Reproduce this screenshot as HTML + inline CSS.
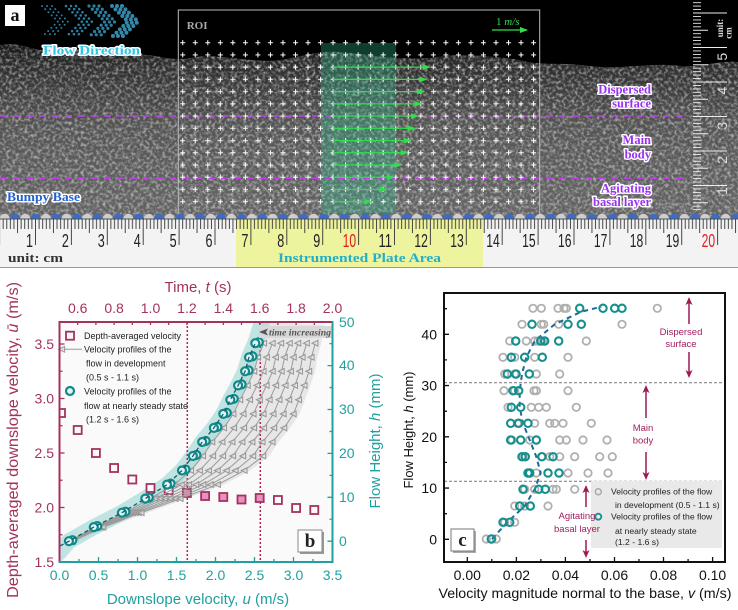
<!DOCTYPE html>
<html><head><meta charset="utf-8"><style>
html,body{margin:0;padding:0;background:#fff;}
svg{display:block;}
.s{font-family:"Liberation Sans",Arial,sans-serif;}
.sf{font-family:"Liberation Serif",serif;}
.ol{paint-order:stroke;stroke:#fff;stroke-width:3;stroke-linejoin:round;}
</style></head><body>
<svg width="738" height="610" viewBox="0 0 738 610" xmlns="http://www.w3.org/2000/svg">
<defs>
<linearGradient id="tex" gradientUnits="userSpaceOnUse" x1="0" y1="40" x2="0" y2="218">
<stop offset="0" stop-color="#111"/><stop offset="0.12" stop-color="#2a2a2a"/><stop offset="0.3" stop-color="#404040"/><stop offset="0.45" stop-color="#525252"/><stop offset="0.7" stop-color="#5c5c5c"/><stop offset="1" stop-color="#646464"/>
</linearGradient>
<clipPath id="texclip"><path d="M0,45 C20,40 40,55 60,50 C80,45 100,58 130,55 C150,52 170,62 190,58 C220,52 250,64 280,60 C300,57 320,50 340,52 C370,55 400,60 430,58 C460,52 490,56 520,60 C540,66 560,62 590,66 C620,70 650,62 680,66 C700,68 720,60 738,62 L738,218 L0,218 Z"/></clipPath>
<filter id="nz" filterUnits="userSpaceOnUse" x="0" y="0" width="738" height="220">
<feTurbulence type="fractalNoise" baseFrequency="0.32" numOctaves="2" seed="7" result="t"/>
<feColorMatrix in="t" type="matrix" values="0 0 0 0 1  0 0 0 0 1  0 0 0 0 1  2.6 0 0 0 -1.1"/>
</filter>
<pattern id="plus" patternUnits="userSpaceOnUse" x="176.435" y="36.585" width="12.53" height="12.23">
<path d="M3.8,6.1 h5 M6.3,3.6 v5" stroke="#fff" stroke-width="1"/>
</pattern>
<pattern id="bumps" patternUnits="userSpaceOnUse" x="10" y="213" width="20.6" height="12">
<circle cx="5" cy="6" r="5.2" fill="#3d6cc4"/><circle cx="15.3" cy="6" r="5.2" fill="#cfcfcf"/>
</pattern>
<pattern id="rtick" patternUnits="userSpaceOnUse" x="35" y="219" width="35.9" height="40">
<g stroke="#333" stroke-width="0.9">
<path d="M0.5,0 v26 M18.45,0 v14 M4.09,0 v10 M7.68,0 v10 M11.27,0 v10 M14.86,0 v10 M22.04,0 v10 M25.63,0 v10 M29.22,0 v10 M32.81,0 v10"/>
</g>
</pattern>
<pattern id="vtick" patternUnits="userSpaceOnUse" x="693" y="47" width="50" height="34.5">
<g stroke="#eee" stroke-width="0.9">
<path d="M0,0.5 h34 M0,17.75 h15 M0,3.95 h8 M0,7.4 h8 M0,10.85 h8 M0,14.3 h8 M0,21.2 h8 M0,24.65 h8 M0,28.1 h8 M0,31.55 h8"/>
</g>
</pattern>
<marker id="ga" markerUnits="userSpaceOnUse" markerWidth="8" markerHeight="6" refX="7" refY="3" orient="auto"><path d="M0,0 L8,3 L0,6 z" fill="#2ee04a"/></marker>
<marker id="tri" markerUnits="userSpaceOnUse" markerWidth="10" markerHeight="10" refX="5" refY="5" orient="0"><path d="M1.8,5 L7.6,2.2 L7.6,7.8 Z" fill="#ececec" fill-opacity="0.6" stroke="#999" stroke-width="1.1"/></marker>
<marker id="tcb" markerUnits="userSpaceOnUse" markerWidth="12" markerHeight="12" refX="6" refY="6" orient="0"><circle cx="6" cy="6" r="4" fill="#e2f4f2" stroke="#11898a" stroke-width="2.2"/></marker>
<marker id="gc" markerUnits="userSpaceOnUse" markerWidth="12" markerHeight="12" refX="6" refY="6" orient="0"><circle cx="6" cy="6" r="3.7" fill="none" stroke="#b0b0b0" stroke-width="1.8"/></marker>
<marker id="tc" markerUnits="userSpaceOnUse" markerWidth="12" markerHeight="12" refX="6" refY="6" orient="0"><circle cx="6" cy="6" r="3.7" fill="none" stroke="#13908e" stroke-width="2.1"/></marker>
<clipPath id="bclip"><rect x="59.5" y="322" width="273" height="240"/></clipPath>
</defs>

<rect x="0" y="0" width="738" height="610" fill="#fff"/>

<!-- ================= PANEL A ================= -->
<rect x="0" y="0" width="738" height="219" fill="#000"/>
<g clip-path="url(#texclip)">
<rect x="0" y="30" width="738" height="190" fill="url(#tex)"/>
<rect x="0" y="30" width="738" height="190" filter="url(#nz)" opacity="0.5"/>
</g>
<rect x="321" y="43" width="75" height="170" fill="#30c090" opacity="0.32"/>
<g stroke="#c040e8" stroke-width="1.6" stroke-dasharray="7 6">
<line x1="0" y1="116" x2="690" y2="116"/>
<line x1="0" y1="178.3" x2="690" y2="178.3"/>
</g>
<rect x="178.3" y="10" width="361.4" height="208" fill="none" stroke="#bbb" stroke-width="1"/>
<text x="186.7" y="29" class="sf" font-size="11" font-weight="bold" fill="#aaa">ROI</text>
<rect x="176.435" y="36.585" width="363.37" height="171.22" fill="url(#plus)"/>
<g stroke="#2ee04a" stroke-width="1.2" marker-end="url(#ga)">
<line x1="333" y1="67.16" x2="429.7" y2="67.16"/>
<line x1="333" y1="79.39" x2="426.3" y2="79.39"/>
<line x1="333" y1="91.62" x2="424" y2="91.62"/>
<line x1="333" y1="103.85" x2="421.3" y2="103.85"/>
<line x1="333" y1="116.08" x2="418" y2="116.08"/>
<line x1="333" y1="128.31" x2="414.7" y2="128.31"/>
<line x1="333" y1="140.54" x2="410.7" y2="140.54"/>
<line x1="333" y1="152.77" x2="407.3" y2="152.77"/>
<line x1="333" y1="165" x2="401.3" y2="165"/>
<line x1="333" y1="177.23" x2="394" y2="177.23"/>
<line x1="333" y1="189.46" x2="386.3" y2="189.46"/>
<line x1="333" y1="201.69" x2="371.3" y2="201.69"/>
</g>
<text x="496" y="25" class="sf" font-size="11" fill="#2ee04a">1 <tspan font-style="italic">m/s</tspan></text>
<line x1="492" y1="30" x2="527" y2="30" stroke="#2ee04a" stroke-width="1.2" marker-end="url(#ga)"/>

<!-- chevrons -->
<g fill="none" stroke="#2a7fa0" stroke-linecap="round">
<g stroke-width="2" stroke-dasharray="0 4.5"><polyline points="42,6 58,21.5 42,37"/><polyline points="47,6 63,21.5 47,37"/><polyline points="52,6 68,21.5 52,37"/></g>
<g stroke-width="2.6" stroke-dasharray="0 4.5"><polyline points="66,6 82,21.5 66,37"/><polyline points="71,6 87,21.5 71,37"/><polyline points="76,6 92,21.5 76,37"/></g>
<g stroke-width="3.2" stroke-dasharray="0 4.6"><polyline points="89,6 105,21.5 89,37"/><polyline points="94,6 110,21.5 94,37"/><polyline points="99,6 115,21.5 99,37"/></g>
<g stroke-width="4" stroke-dasharray="0 4.8" stroke="#3388aa"><polyline points="112,6 128,21.5 112,37"/><polyline points="117,6 133,21.5 117,37"/><polyline points="122,6 138,21.5 122,37"/></g>
</g>
<text x="43" y="54.5" class="sf ol" font-size="12.5" font-weight="bold" fill="#2ec4e6" textLength="97" lengthAdjust="spacingAndGlyphs">Flow Direction</text>
<text x="7" y="201" class="sf ol" font-size="12.5" font-weight="bold" fill="#2060d0" textLength="73" lengthAdjust="spacingAndGlyphs">Bumpy Base</text>
<g class="sf ol" font-size="12.5" font-weight="bold" fill="#9a30f0" text-anchor="end">
<text x="651" y="93.5">Dispersed</text>
<text x="651" y="107.5">surface</text>
<text x="651" y="144">Main</text>
<text x="651" y="158.5">body</text>
<text x="651" y="192.5">Agitating</text>
<text x="651" y="206">basal layer</text>
</g>
<rect x="5" y="5" width="20" height="21" fill="#fff"/>
<text x="15" y="21" class="sf" font-size="18" font-weight="bold" fill="#111" text-anchor="middle">a</text>

<!-- vertical ruler -->
<rect x="693" y="0" width="45" height="212" fill="url(#vtick)"/>
<g class="s" font-size="14" fill="#ddd" text-anchor="middle">
<text transform="translate(727,56.7) rotate(-90)">5</text>
<text transform="translate(727,90.7) rotate(-90)">4</text>
<text transform="translate(727,125.7) rotate(-90)">3</text>
<text transform="translate(727,160) rotate(-90)">2</text>
<text transform="translate(727,191) rotate(-90)">1</text>
</g>
<g class="sf" font-size="9" font-weight="bold" fill="#ddd" text-anchor="middle">
<text transform="translate(723,28) rotate(-90)">unit:</text>
<text transform="translate(731.5,33) rotate(-90)">cm</text>
</g>

<!-- bumpy base -->
<rect x="0" y="213" width="738" height="6" fill="url(#bumps)"/>

<!-- horizontal ruler -->
<rect x="0" y="219" width="738" height="48" fill="#f3f3f3"/>
<rect x="236" y="219" width="247" height="48" fill="#eef39e"/>
<line x1="0" y1="219" x2="738" y2="219" stroke="#555" stroke-width="1"/>
<rect x="0" y="219" width="738" height="30" fill="url(#rtick)"/>
<line x1="0" y1="267.5" x2="738" y2="267.5" stroke="#999" stroke-width="1"/>
<g class="s" font-size="18" fill="#222" text-anchor="end">
<text x="33" y="247" textLength="7" lengthAdjust="spacingAndGlyphs">1</text>
<text x="68.9" y="247" textLength="7" lengthAdjust="spacingAndGlyphs">2</text>
<text x="104.8" y="247" textLength="7" lengthAdjust="spacingAndGlyphs">3</text>
<text x="140.7" y="247" textLength="7" lengthAdjust="spacingAndGlyphs">4</text>
<text x="176.6" y="247" textLength="7" lengthAdjust="spacingAndGlyphs">5</text>
<text x="212.5" y="247" textLength="7" lengthAdjust="spacingAndGlyphs">6</text>
<text x="248.4" y="247" textLength="7" lengthAdjust="spacingAndGlyphs">7</text>
<text x="284.3" y="247" textLength="7" lengthAdjust="spacingAndGlyphs">8</text>
<text x="320.2" y="247" textLength="7" lengthAdjust="spacingAndGlyphs">9</text>
<text x="356.1" y="247" textLength="13.5" lengthAdjust="spacingAndGlyphs" fill="#e02020">10</text>
<text x="392" y="247" textLength="13.5" lengthAdjust="spacingAndGlyphs">11</text>
<text x="427.9" y="247" textLength="13.5" lengthAdjust="spacingAndGlyphs">12</text>
<text x="463.8" y="247" textLength="13.5" lengthAdjust="spacingAndGlyphs">13</text>
<text x="499.7" y="247" textLength="13.5" lengthAdjust="spacingAndGlyphs">14</text>
<text x="535.6" y="247" textLength="13.5" lengthAdjust="spacingAndGlyphs">15</text>
<text x="571.5" y="247" textLength="13.5" lengthAdjust="spacingAndGlyphs">16</text>
<text x="607.4" y="247" textLength="13.5" lengthAdjust="spacingAndGlyphs">17</text>
<text x="643.3" y="247" textLength="13.5" lengthAdjust="spacingAndGlyphs">18</text>
<text x="679.2" y="247" textLength="13.5" lengthAdjust="spacingAndGlyphs">19</text>
<text x="715.1" y="247" textLength="13.5" lengthAdjust="spacingAndGlyphs" fill="#e02020">20</text>
</g>
<text x="8" y="262" class="sf" font-size="13" font-weight="bold" fill="#333" textLength="55" lengthAdjust="spacingAndGlyphs">unit: cm</text>
<text x="278" y="262" class="sf" font-size="13" font-weight="bold" fill="#22b0c8" textLength="163" lengthAdjust="spacingAndGlyphs">Instrumented Plate Area</text>

<!-- ================= PANEL B ================= -->
<rect x="59.5" y="322" width="273" height="240" fill="#fafafa"/>
<g clip-path="url(#bclip)">
<polygon points="78.8,541.2 109.2,527.1 147.4,512.7 186.4,498.6 223.8,484.6 250.4,470.5 269.1,456 278.4,442 290.1,427.9 299.5,413.9 304.9,399.8 310.4,385.4 315.1,371.3 317.4,357.3 321.3,343.2 324,325 262,322 255.3,343.2 249,357.3 245.1,371.3 238.1,385.4 230.3,399.8 223.3,413.9 213.9,427.9 202.2,442 192.9,456 182,470.5 167.1,484.6 145.3,498.6 121.9,512.7 93.8,527.1 68.9,541.2" fill="#e2e2e2" opacity="0.8"/>
<polyline points="55,556 59.5,552 68.9,541.2 93.8,527.1 121.9,512.7 145.3,498.6 167.1,484.6 182,470.5 192.9,456 202.2,442 213.9,427.9 223.3,413.9 230.3,399.8 238.1,385.4 245.1,371.3 249,357.3 255.3,343.2 262,322 265,312" fill="none" stroke="#9fd9d4" stroke-width="16" stroke-linejoin="round" opacity="0.65"/>
<g stroke="#b0245a" stroke-width="1.5" stroke-dasharray="2 2">
<line x1="187.3" y1="322" x2="187.3" y2="562"/>
<line x1="260.3" y1="322" x2="260.3" y2="562"/>
</g>
<!-- squares -->
<g stroke="#a4325f" stroke-width="1.8" fill="#fafafa">
<rect x="57" y="409" width="8" height="8"/>
<rect x="73.7" y="426" width="8" height="8"/>
<rect x="91.9" y="449" width="8" height="8"/>
<rect x="110.1" y="464" width="8" height="8"/>
<rect x="128.3" y="475.5" width="8" height="8"/>
<rect x="146.5" y="484" width="8" height="8"/>
<rect x="164.7" y="486" width="8" height="8"/>
<rect x="182.9" y="489" width="8" height="8" fill="#e890c0"/>
<rect x="201.1" y="492" width="8" height="8" fill="#e890c0"/>
<rect x="219.3" y="493" width="8" height="8" fill="#e890c0"/>
<rect x="237.5" y="495.5" width="8" height="8" fill="#e890c0"/>
<rect x="255.7" y="494" width="8" height="8" fill="#e890c0"/>
<rect x="273.9" y="496" width="8" height="8"/>
<rect x="292.1" y="504" width="8" height="8"/>
<rect x="310.3" y="506" width="8" height="8"/>
</g>
<!-- gray profiles -->
<g fill="none" stroke="#9a9a9a" stroke-width="1" marker-start="url(#tri)" marker-mid="url(#tri)" marker-end="url(#tri)">
<polyline points="69.5,541.2 95.1,527.1 124.7,512.7 150.3,498.6 174.3,484.6 190.9,470.5 202.9,456 212.2,442 223.9,427.9 233.3,413.9 240.1,399.8 247.6,385.4 254.2,371.3 257.9,357.3 263.9,343.2"/>
<polyline points="70,541.2 96.5,527.1 127.5,512.7 155.3,498.6 181.6,484.6 199.8,470.5 213,456 222.3,442 234,427.9 243.4,413.9 249.9,399.8 257.1,385.4 263.4,371.3 266.8,357.3 272.5,343.2"/>
<polyline points="70.6,541.2 97.8,527.1 130.3,512.7 160.4,498.6 188.8,484.6 208.8,470.5 223,456 232.3,442 244,427.9 253.4,413.9 259.7,399.8 266.5,385.4 272.6,371.3 275.8,357.3 281,343.2"/>
<polyline points="71.1,541.2 99.2,527.1 133,512.7 165.3,498.6 196.1,484.6 217.6,470.5 233,456 242.3,442 254,427.9 263.4,413.9 269.5,399.8 276,385.4 281.6,371.3 284.6,357.3 289.6,343.2"/>
<polyline points="71.7,541.2 100.5,527.1 135.8,512.7 170.4,498.6 203.3,484.6 226.6,470.5 243,456 252.3,442 264,427.9 273.4,413.9 279.3,399.8 285.4,385.4 290.8,371.3 293.6,357.3 298.1,343.2"/>
<polyline points="72.2,541.2 101.9,527.1 138.6,512.7 175.4,498.6 210.6,484.6 235.5,470.5 253.1,456 262.4,442 274.1,427.9 283.5,413.9 289.1,399.8 294.9,385.4 299.9,371.3 302.5,357.3 306.7,343.2"/>
<polyline points="72.8,541.2 103.2,527.1 141.4,512.7 180.4,498.6 217.8,484.6 244.4,470.5 263.1,456 272.4,442 284.1,427.9 293.5,413.9 298.9,399.8 304.4,385.4 309.1,371.3 311.4,357.3 315.3,343.2"/>
</g>
<!-- teal profiles -->
<polyline points="72.4,540.2 97.3,526.1 125.4,511.7 148.8,497.6 170.6,483.6 185.5,469.5 196.4,455 205.7,441 217.4,426.9 226.8,412.9 233.8,398.8 241.6,384.4 248.6,370.3 252.5,356.3 258.8,342.2" fill="none" stroke="none" marker-start="url(#tcb)" marker-mid="url(#tcb)" marker-end="url(#tcb)"/>
<polyline points="68.9,541.2 93.8,527.1 121.9,512.7 145.3,498.6 167.1,484.6 182,470.5 192.9,456 202.2,442 213.9,427.9 223.3,413.9 230.3,399.8 238.1,385.4 245.1,371.3 249,357.3 255.3,343.2" fill="none" stroke="none" marker-start="url(#tcb)" marker-mid="url(#tcb)" marker-end="url(#tcb)"/>
<polyline points="60,546 68.9,541.2 93.8,527.1 121.9,512.7 145.3,498.6 167.1,484.6 182,470.5 192.9,456 202.2,442 213.9,427.9 223.3,413.9 230.3,399.8 238.1,385.4 245.1,371.3 249,357.3 255.3,343.2" fill="none" stroke="#1a5a70" stroke-width="1.3" stroke-dasharray="4 3"/>
</g>
<!-- time increasing -->
<rect x="259" y="326" width="73" height="12" fill="#d8d8d8"/>
<path d="M259,332 L268,328.5 L266,332 L268,335.5 Z" fill="#555"/>
<text x="269" y="335.5" class="sf" font-size="9.5" font-style="italic" font-weight="bold" fill="#555" textLength="62" lengthAdjust="spacingAndGlyphs">time increasing</text>
<!-- legend b -->
<rect x="66" y="331.7" width="8" height="8" fill="#fafafa" stroke="#a4325f" stroke-width="1.8"/>
<line x1="62" y1="349.3" x2="82" y2="349.3" stroke="#9a9a9a" stroke-width="1" marker-start="url(#tri)"/>
<circle cx="70" cy="391" r="4" fill="#e2f4f2" stroke="#11898a" stroke-width="2.2"/>
<g class="s" font-size="9" fill="#222">
<text x="84" y="339">Depth-averaged velocity</text>
<text x="84" y="352.5">Velocity profiles of the</text>
<text x="86" y="366.5">flow in development</text>
<text x="86" y="380.5">(0.5 s - 1.1 s)</text>
<text x="84" y="394.5">Velocity profiles of the</text>
<text x="84" y="409">flow at nearly steady state</text>
<text x="86" y="422.5">(1.2 s - 1.6 s)</text>
</g>
<!-- b label -->
<rect x="300" y="532" width="24" height="22" fill="#999"/>
<rect x="298" y="530" width="24" height="22" fill="#fff" stroke="#888" stroke-width="1"/>
<text x="310" y="547" class="sf" font-size="19" font-weight="bold" fill="#222" text-anchor="middle">b</text>
<!-- spines -->
<line x1="59.5" y1="321" x2="59.5" y2="563" stroke="#a4325f" stroke-width="2"/>
<line x1="58.5" y1="322" x2="333.5" y2="322" stroke="#a4325f" stroke-width="2"/>
<line x1="332.5" y1="321" x2="332.5" y2="563" stroke="#20a0a0" stroke-width="2"/>
<line x1="58.5" y1="562" x2="333.5" y2="562" stroke="#20a0a0" stroke-width="2"/>
<!-- ticks b -->
<g stroke="#a4325f" stroke-width="1.3">
<path d="M59.5,344 h5 M59.5,398.5 h5 M59.5,453 h5 M59.5,507.5 h5 M59.5,371.25 h3 M59.5,425.75 h3 M59.5,480.25 h3 M59.5,534.75 h3"/>
<path d="M77.7,322 v3 M95.9,322 v3 M114.1,322 v3 M132.3,322 v3 M150.5,322 v3 M168.7,322 v3 M186.9,322 v3 M205.1,322 v3 M223.3,322 v3 M241.5,322 v3 M259.7,322 v3 M277.9,322 v3 M296.1,322 v3 M314.3,322 v3"/>
</g>
<g stroke="#20a0a0" stroke-width="1.3">
<path d="M332.5,541.2 h-5 M332.5,497.3 h-5 M332.5,453.4 h-5 M332.5,409.5 h-5 M332.5,365.6 h-5 M332.5,519.25 h-3 M332.5,475.35 h-3 M332.5,431.45 h-3 M332.5,387.55 h-3 M332.5,343.65 h-3"/>
<path d="M98.5,562 v-5 M137.5,562 v-5 M176.5,562 v-5 M215.5,562 v-5 M254.5,562 v-5 M293.5,562 v-5 M79,562 v-3 M118,562 v-3 M157,562 v-3 M196,562 v-3 M235,562 v-3 M274,562 v-3 M313,562 v-3"/>
</g>
<g class="s" font-size="14" fill="#a4325f">
<g text-anchor="end">
<text x="54" y="349">3.5</text><text x="54" y="403.5">3.0</text><text x="54" y="458">2.5</text><text x="54" y="512.5">2.0</text><text x="54" y="567">1.5</text>
</g>
<g text-anchor="middle">
<text x="77.7" y="313">0.6</text><text x="114.1" y="313">0.8</text><text x="150.5" y="313">1.0</text><text x="186.9" y="313">1.2</text><text x="223.3" y="313">1.4</text><text x="259.7" y="313">1.6</text><text x="296.1" y="313">1.8</text><text x="332.5" y="313">2.0</text>
</g>
<text x="198" y="292" font-size="15" text-anchor="middle">Time, <tspan font-style="italic">t</tspan> (s)</text>
<text transform="translate(18,440) rotate(-90)" font-size="15.5" text-anchor="middle" textLength="316" lengthAdjust="spacingAndGlyphs">Depth-averaged downslope velocity, <tspan font-style="italic">ū</tspan>  (m/s)</text>
</g>
<g class="s" font-size="14" fill="#20a0a0">
<g text-anchor="middle">
<text x="59.5" y="580">0.0</text><text x="98.5" y="580">0.5</text><text x="137.5" y="580">1.0</text><text x="176.5" y="580">1.5</text><text x="215.5" y="580">2.0</text><text x="254.5" y="580">2.5</text><text x="293.5" y="580">3.0</text><text x="332.5" y="580">3.5</text>
</g>
<text x="339" y="546">0</text><text x="339" y="502">10</text><text x="339" y="458">20</text><text x="339" y="414">30</text><text x="339" y="370">40</text><text x="339" y="327">50</text>
<text x="198" y="604" font-size="15" text-anchor="middle">Downslope velocity, <tspan font-style="italic">u</tspan> (m/s)</text>
<text transform="translate(380,441) rotate(-90)" font-size="15" text-anchor="middle">Flow Height, <tspan font-style="italic">h</tspan> (mm)</text>
</g>

<!-- ================= PANEL C ================= -->
<g stroke="#888" stroke-width="1.2" stroke-dasharray="3 2">
<line x1="444" y1="382.7" x2="725" y2="382.7"/>
<line x1="444" y1="481.3" x2="725" y2="481.3"/>
</g>
<rect x="591" y="481" width="131" height="67" fill="#e9e9e9"/>
<!-- gray circles -->
<polyline fill="none" stroke="none" marker-start="url(#gc)" marker-mid="url(#gc)" marker-end="url(#gc)" points="533,308.3 541.3,308.3 558,308.3 564,308.3 566.3,308.3 657.3,308.3 522,324.3 541.3,324.3 543.7,324.3 558.7,324.3 622,324.3 509.7,341 526.3,341 534.7,341 538,341 543,341 586.3,341 503,357.3 514.7,357.3 524.7,357.3 534.7,357.3 568,357.3 504.7,374 514.7,374 536.3,374 559.7,374 504,390.7 514.7,390.7 534,390.7 536.3,390.7 568,390.7 508,407.3 531.3,407.3 538.7,407.3 546.3,407.3 576.3,407.3 517.3,423.3 534.7,423.3 549.7,423.3 554.7,423.3 563,423.3 591.3,423.3 512,440 529.7,440 536.3,440 559.7,440 566.3,440 583,440 607,440 523,456.7 541.3,456.7 549.7,456.7 559.7,456.7 574.7,456.7 599.7,456.7 612.3,456.7 529.7,473 536.3,473 568,473 588,473 608,473 524.7,489.3 534.7,489.3 553,489.3 556.3,489.3 574.7,489.3 514.7,506 524.7,506 548,506 504.7,522.3 514.7,522.3 486.3,539 492,539 496.3,539"/>
<polyline points="492,539 507.3,522.3 524.7,506 534.7,489.3 540.7,473 536.3,456.7 529.7,440 523,423.3 519.7,407.3 519.7,390.7 522,374 526.3,357.3 534.7,341 554.7,324.3 581.3,311.7 601.3,306.7" fill="none" stroke="#1d6a9a" stroke-width="2" stroke-dasharray="5 4"/>
<!-- teal circles -->
<polyline fill="none" stroke="none" marker-start="url(#tc)" marker-mid="url(#tc)" marker-end="url(#tc)" points="579.7,308.3 603,308.3 614.7,308.3 622,308.3 532,324.3 568,324.3 581.3,324.3 515.7,341 540.7,341 544.7,341 558.7,341 511.3,357.3 524.7,357.3 542.3,357.3 507.3,374 516,374 529.3,374 513,390.7 518.7,390.7 511.3,407.3 520.7,407.3 510.7,423.3 518.7,423.3 528,423.3 510.7,440 520.7,440 536.3,440 522,456.7 525.3,456.7 542,456.7 553,456.7 528,473 529.7,473 548,473 559,473 523,489.3 538.7,489.3 545.3,489.3 519.7,506 530.3,506 503,522.3 509.7,522.3 491.3,539"/>
<!-- annotations -->
<g stroke="#9b1b52" stroke-width="1.5" fill="none">
<line x1="689" y1="303" x2="689" y2="324"/>
<line x1="689" y1="352" x2="689" y2="373"/>
<line x1="646" y1="391" x2="646" y2="418"/>
<line x1="646" y1="452" x2="646" y2="475"/>
<line x1="586" y1="491" x2="586" y2="507"/>
<line x1="586" y1="540" x2="586" y2="553"/>
</g>
<g fill="#9b1b52">
<path d="M689,297 L685.5,305 L689,303 L692.5,305 Z"/>
<path d="M689,378 L685.5,370 L689,372 L692.5,370 Z"/>
<path d="M646,385 L642.5,393 L646,391 L649.5,393 Z"/>
<path d="M646,480 L642.5,472 L646,474 L649.5,472 Z"/>
<path d="M586,485 L582.5,493 L586,491 L589.5,493 Z"/>
<path d="M586,558 L582.5,550 L586,552 L589.5,550 Z"/>
</g>
<g class="s" font-size="9.5" fill="#a02060" text-anchor="middle">
<text x="681" y="335">Dispersed</text>
<text x="681" y="347">surface</text>
<text x="643" y="431">Main</text>
<text x="643" y="443.5">body</text>
<text x="577" y="519">Agitating</text>
<text x="577" y="532">basal layer</text>
</g>
<circle cx="598.3" cy="491.7" r="3" fill="none" stroke="#aaa" stroke-width="1.5"/>
<circle cx="598.3" cy="516.7" r="3" fill="none" stroke="#13908e" stroke-width="1.8"/>
<g class="s" font-size="8.6" fill="#222">
<text x="611" y="494.5">Velocity profiles of the flow</text>
<text x="615" y="508">in development (0.5 - 1.1 s)</text>
<text x="611" y="519.5">Velocity profiles of the flow</text>
<text x="615" y="534">at nearly steady state</text>
<text x="615" y="545">(1.2 - 1.6 s)</text>
</g>
<rect x="453" y="531" width="23" height="22" fill="#aaa"/>
<rect x="451" y="529" width="23" height="22" fill="#fff" stroke="#777" stroke-width="1"/>
<text x="462.5" y="546" class="sf" font-size="19" font-weight="bold" fill="#222" text-anchor="middle">c</text>
<rect x="444" y="293" width="281" height="269" fill="none" stroke="#111" stroke-width="2"/>
<g stroke="#111" stroke-width="1.3">
<path d="M444,539.3 h5 M444,488.05 h5 M444,436.8 h5 M444,385.55 h5 M444,334.3 h5 M444,513.7 h3 M444,462.4 h3 M444,411.2 h3 M444,359.9 h3 M444,308.7 h3"/>
<path d="M467.3,562 v-5 M516.4,562 v-5 M565.4,562 v-5 M614.5,562 v-5 M663.5,562 v-5 M712.6,562 v-5 M491.8,562 v-3 M540.9,562 v-3 M590,562 v-3 M639,562 v-3 M688.1,562 v-3"/>
</g>
<g class="s" font-size="14" fill="#111">
<g text-anchor="end">
<text x="437" y="544.3">0</text><text x="437" y="493">10</text><text x="437" y="441.8">20</text><text x="437" y="390.5">30</text><text x="437" y="339.3">40</text>
</g>
<g text-anchor="middle">
<text x="467.3" y="580">0.00</text><text x="516.4" y="580">0.02</text><text x="565.4" y="580">0.04</text><text x="614.5" y="580">0.06</text><text x="663.5" y="580">0.08</text><text x="712.6" y="580">0.10</text>
</g>
<text x="585" y="598" text-anchor="middle" textLength="293" lengthAdjust="spacingAndGlyphs">Velocity magnitude normal to the base, <tspan font-style="italic">v</tspan> (m/s)</text>
<text transform="translate(413,430) rotate(-90)" font-size="13" text-anchor="middle">Flow Height, <tspan font-style="italic">h</tspan> (mm)</text>
</g>
</svg>
</body></html>
